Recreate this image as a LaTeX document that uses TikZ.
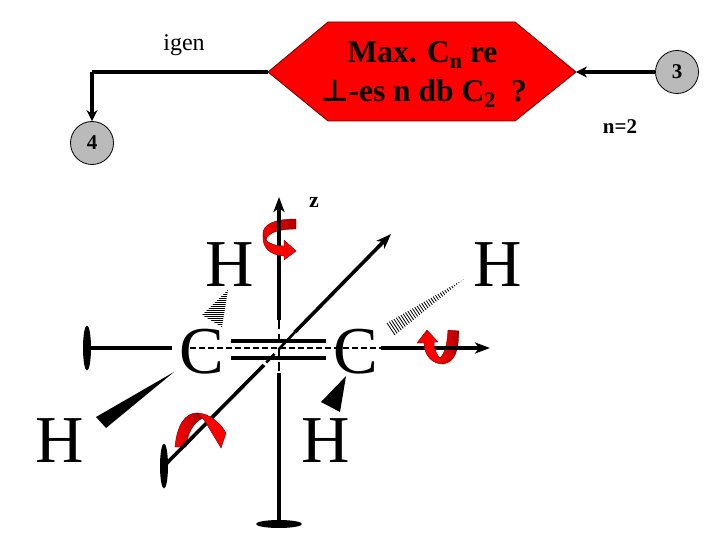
\documentclass[tikz,border=0pt]{standalone}
\usepackage{fontspec}
\setmainfont{Liberation Serif}
\newfontfamily\symfont{DejaVu Sans}
\usetikzlibrary{arrows.meta,shapes.geometric}
\definecolor{darkred}{RGB}{170,0,0}
\definecolor{dimred}{RGB}{110,0,0}
\tikzset{
  flowline/.style={line width=3.4pt,draw=black},
  flowarrow/.style={flowline,-{Stealth[length=11pt,width=11pt]}},
  axisline/.style={line width=3.6pt,draw=black},
  axisarrow/.style={axisline,-{Stealth[length=15pt,width=11pt,inset=4pt]}},
  axisdash/.style={line width=2.8pt,draw=black,dash pattern=on 9pt off 5pt},
  centredash/.style={line width=1.7pt,draw=black,dash pattern=on 6pt off 3pt},
  dbl/.style={line width=3.6pt,draw=black},
  stopper/.style={fill=black,draw=none,ellipse},
  bigatom/.style={inner sep=0pt,font=\fontsize{67}{67}\selectfont},
  circ/.style={circle,draw=black,line width=0.8pt,fill=black!27,minimum size=43pt,inner sep=0pt,font=\fontsize{21}{21}\selectfont\bfseries},
  decisiontext/.style={inner sep=0pt,font=\fontsize{31.5}{31.5}\selectfont\bfseries},
  decisionfill/.style={fill=red,draw=dimred,line width=0.8pt},
  wedgefill/.style={fill=black,draw=none},
  hatchline/.style={line width=0.9pt,draw=black},
  turnbright/.style={fill=red,draw=dimred,line width=0.4pt},
  turndark/.style={left color=red,right color=darkred,draw=dimred,line width=0.4pt},
}
\begin{document}
\begin{tikzpicture}[x=1pt,y=-1pt]
\useasboundingbox (0,0) rectangle (720,540);
\fill[white] (0,0) rectangle (720,540);

% flow part
\coordinate (decW) at (268,72);
\coordinate (decE) at (576,72);
\draw[decisionfill] (decW) -- (328,22) -- (515,22) -- (decE) -- (515,121) -- (328,121) -- cycle;
\node[decisiontext] (dec1) at (422.5,55) {Max. C\lower6pt\hbox{\fontsize{22}{22}\selectfont n} re};
\node[decisiontext] (dec2) at (424,94) {{\symfont\fontsize{30}{30}\selectfont\bfseries ⊥}-es n db C\lower6pt\hbox{\fontsize{22}{22}\selectfont 2}\ \ ?};
\node[circ] (three) at (677,72) {3};
\node[circ] (four) at (92,143) {4};
\coordinate (bend) at (92,72);
\draw[flowline] (decW) -- (bend);
\draw[flowarrow] (bend) -- (four.north);
\draw[flowarrow] (three.west) -- (decE);
\node[inner sep=0pt,font=\fontsize{24}{24}\selectfont] (igen) at (184,45) {igen};
\node[inner sep=0pt,font=\fontsize{21}{21}\selectfont\bfseries] (ntwo) at (620,127) {n=2};
\node[inner sep=0pt,font=\fontsize{22}{22}\selectfont\bfseries] (zlab) at (314,202) {z};

% rotation arrows, back parts
\draw[turndark] (296,219) .. controls (275,219) and (262,224) .. (263,235) -- (266,240) .. controls (268,232) and (280,229) .. (296,229) -- cycle;
\draw[turndark] (175,447) .. controls (177,425) and (185,413) .. (197,413) -- (203,418) .. controls (193,422) and (187,435) .. (186,447) -- cycle;
\draw[turndark] (448,330) -- (459,331) .. controls (458,350) and (456,362) .. (443,364) -- (440,358) .. controls (445,353) and (447,345) .. cycle;

% axes
\node[stopper,minimum width=46pt,minimum height=8pt,inner sep=0pt] (stopz) at (279,524) {};
\node[stopper,minimum width=8pt,minimum height=45pt,inner sep=0pt] (stopx) at (87,348) {};
\node[stopper,minimum width=8pt,minimum height=45pt,inner sep=0pt] (stopy) at (164,466) {};
\coordinate (ztop) at (279,197);
\coordinate (za) at (279,320);
\coordinate (zb) at (279,373);
\draw[axisarrow] (za) -- (ztop);
\draw[axisline] (stopz.center) -- (zb);
\draw[axisdash] (za) -- (zb);
\coordinate (ytop) at (391,234);
\coordinate (ya) at (295,332);
\coordinate (yb) at (264,365);
\draw[axisarrow] (ya) -- (ytop);
\draw[axisline] (stopy.center) -- (yb);
\draw[line width=2.6pt,dash pattern=on 24pt off 6pt on 12pt off 6pt] (ya) -- (yb);
\coordinate (xa) at (172,348);
\coordinate (xb) at (381,348);
\coordinate (xtip) at (490,348);
\draw[axisline] (stopx.center) -- (xa);
\draw[axisarrow] (xb) -- (xtip);
\draw[centredash] (190,348) -- (xb);

% double bond
\coordinate (d1) at (231,341); \coordinate (d2) at (326,341);
\coordinate (d3) at (231,358); \coordinate (d4) at (326,358);
\draw[dbl] (d1) -- (d2);
\draw[dbl] (d3) -- (d4);

% atoms
\node[bigatom] (h1) at (230,265) {H};
\node[bigatom] (h2) at (497.5,265) {H};
\node[bigatom] (h3) at (59.5,441) {H};
\node[bigatom] (h4) at (325.5,441) {H};
\node[bigatom] (c1) at (202,352) {C};
\node[bigatom] (c2) at (356,352) {C};

% wedges
\fill[wedgefill] (174,372) -- (96,417) -- (106,428) -- cycle;
\fill[wedgefill] (346,376) -- (321,402) -- (340,412) -- cycle;
\begin{scope}
  \clip (228,290) -- (202,315) -- (222,327) -- cycle;
  \foreach \yy in {290,292,...,328} \draw[hatchline] (195,\yy) -- (235,\yy);
\end{scope}
\foreach \hh in {0,0.03,...,1.0}
  \draw[hatchline,line width=0.8pt] ({387+\hh*77},{323-\hh*44}) -- ({395+\hh*69},{335-\hh*56});

% rotation arrows, front parts
\draw[turnbright] (263,235) .. controls (262,248) and (270,255) .. (284,256) -- (284,260) -- (296,251) -- (284,240) -- (284,246) .. controls (275,246) and (268,243) .. (266,240) -- cycle;
\draw[turnbright] (197,413) .. controls (208,413) and (220,422) .. (226,433) -- (221,448) -- (206,423) .. controls (204,420) and (203,419) .. (203,418) -- cycle;
\draw[turnbright] (427,330) -- (438,342) -- (434,342) .. controls (434,350) and (437,355) .. (440,358) -- (443,364) .. controls (432,364) and (424,355) .. (424,343) -- (417,343) -- cycle;
\end{tikzpicture}
\end{document}
